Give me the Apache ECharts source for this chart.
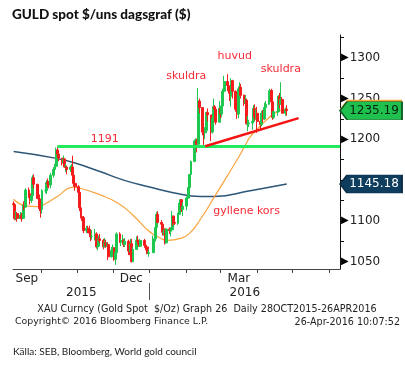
<!DOCTYPE html>
<html><head><meta charset="utf-8">
<script src="https://cdn.jsdelivr.net/npm/echarts@6/dist/echarts.min.js"></script>
<style>html,body{margin:0;padding:0;background:#fff}#c{width:405px;height:366px}</style>
</head><body><div id="c"></div>
<script>
// ---- data ----
const firstOpen = 1121;
const closes = [
  1120,1103,1109,1103,
  1107,1103,1118,1117,1138,
  1133,1125,1131,1153,1145,
  1132,1127,1115,1114,1137,
  1137,1147,1146,1144,1156,
  1163,1167,1187,1182,1177,
  1171,1176,1166,1166,1163,
  1166,1166,1156,1146,1142,
  1135,1116,1105,1104,1088,
  1091,1088,1085,1081,1081,
  1084,1068,1069,1078,1076,
  1068,1073,1070,1071,1056,
  1064,1067,1053,1061,1084,
  1074,1075,1076,1071,1075,
  1063,1062,1072,1050,1065,
  1076,1075,1069,1076,
  1070,1068,1060,1061,
  1075,1078,1092,1108,1098,
  1096,1086,1086,1073,1090,
  1088,1089,1106,1098,1097,
  1108,1120,1126,1114,1118,
  1128,1128,1141,1157,1173,
  1198,1198,1194,1247,1239,
  1209,1208,1211,1233,1230,
  1209,1226,1240,1237,1221,
  1238,1231,1241,1259,1271,
  1266,1263,1253,1272,1259,
  1237,1231,1262,1264,1254,
  1244,1248,1219,1219,1220,
  1222,1238,1227,1232,1222,
  1218,1232,1225,1239,1243,
  1258,1260,1246,1227,1234,
  1234,1253,1243,1249,1232,
  1237,1235.19
];
const highs = [
  1124,1122,1112,1111,
  1111,1110,1120,1124,1140,
  1141,1135,1134,1156,1157,
  1140,1134,1128,1119,1139,
  1142,1150,1152,1149,1159,
  1166,1170,1190,1191,1184,
  1177,1180,1177,1170,1168,
  1168,1170,1180,1156,1151,
  1144,1136,1118,1108,1106,
  1094,1094,1094,1090,1089,
  1090,1086,1077,1082,1084,
  1078,1079,1077,1074,1074,
  1068,1071,1068,1065,1086,
  1086,1078,1083,1078,1079,
  1077,1069,1078,1078,1068,
  1081,1082,1077,1078,
  1078,1074,1070,1065,
  1082,1081,1094,1111,1112,
  1101,1098,1090,1091,1091,
  1092,1092,1112,1103,1102,
  1110,1122,1127,1126,1123,
  1130,1131,1146,1157,1174,
  1200,1201,1201,1263,1250,
  1236,1214,1215,1234,1238,
  1226,1228,1250,1242,1239,
  1247,1240,1248,1262,1278,
  1280,1270,1263,1275,1273,
  1260,1245,1265,1270,1268,
  1255,1254,1250,1229,1224,
  1225,1242,1243,1237,1240,
  1226,1235,1236,1245,1247,
  1260,1262,1262,1247,1235,
  1237,1254,1257,1270,1252,
  1239,1242
];
const lows = [
  1116,1101,1101,1099,
  1102,1099,1102,1113,1116,
  1128,1120,1122,1130,1140,
  1127,1123,1112,1104,1109,
  1134,1133,1141,1140,1140,
  1153,1160,1164,1178,1173,
  1168,1168,1165,1160,1157,
  1160,1162,1155,1142,1137,
  1132,1112,1103,1100,1085,
  1085,1085,1080,1075,1077,
  1076,1066,1064,1068,1073,
  1065,1068,1067,1068,1052,
  1055,1059,1051,1046,1060,
  1073,1069,1073,1068,1068,
  1058,1058,1057,1049,1052,
  1065,1071,1068,1068,
  1067,1064,1059,1056,
  1061,1071,1077,1088,1097,
  1094,1082,1082,1071,1072,
  1084,1081,1087,1094,1095,
  1095,1103,1116,1111,1106,
  1113,1119,1128,1140,1148,
  1172,1186,1184,1195,1232,
  1205,1192,1200,1210,1222,
  1198,1207,1219,1230,1218,
  1222,1226,1227,1238,1252,
  1259,1256,1247,1240,1250,
  1234,1225,1226,1255,1250,
  1241,1240,1218,1210,1215,
  1212,1221,1223,1224,1208,
  1212,1216,1221,1224,1234,
  1242,1251,1245,1224,1225,
  1229,1233,1238,1243,1232,
  1229,1229
];
const holidays = ['2015-12-25', '2016-01-01'];
const firstDay = '2015-09-08';
const lastDay = '2016-04-26';

// 50-day moving average (orange)
const ma50 = [
  ['2015-09-08',1126.5],['2015-09-18',1118.5],['2015-09-28',1117.5],['2015-10-03',1119.5],
  ['2015-10-15',1130],['2015-10-28',1141],['2015-11-03',1140],['2015-11-20',1132],
  ['2015-12-05',1122],['2015-12-18',1107],['2015-12-31',1088],['2016-01-08',1080.5],
  ['2016-01-16',1076],['2016-01-27',1078.5],['2016-02-04',1085],['2016-02-13',1102],
  ['2016-02-25',1130],['2016-03-15',1175],['2016-03-22',1193],['2016-03-26',1203],
  ['2016-04-03',1215.5],['2016-04-12',1228],['2016-04-18',1234],['2016-04-26',1237]
];
// 200-day moving average (dark blue)
const ma200 = [
  ['2015-09-08',1185],['2015-10-13',1177],['2015-10-30',1171],['2015-11-20',1160.5],
  ['2015-12-10',1150],['2016-01-01',1141.5],['2016-01-21',1134.5],['2016-02-13',1130],
  ['2016-02-25',1130],['2016-03-26',1137],['2016-04-26',1145.18]
];
const lastPrice = 1235.19;
const lastMa200 = 1145.18;
const lastMa50 = 1237.6;
const resistance = 1191;
const resistanceFrom = '2015-10-15';
const trendFrom = ['2016-02-17', 1191.5];
const trendTo = ['2016-05-06', 1226];
const notes = [
  ['1191', '2015-11-24', 1200.5],
  ['skuldra', '2016-02-01', 1278],
  ['huvud', '2016-03-13', 1302],
  ['skuldra', '2016-04-21', 1286.5],
  ['gyllene kors', '2016-03-23', 1111.5]
];
const monthLabels = ['2015-09', '2015-12', '2016-03'];
const monthNames = ['Jan','Feb','Mar','Apr','May','Jun','Jul','Aug','Sep','Oct','Nov','Dec'];
const yearLabels = [2015, 2016];
const yLabelValues = [1050, 1100, 1200, 1250, 1300];
const yTickValues = [1050,1075,1100,1125,1150,1175,1200,1225,1250,1275,1300,1325];
const axisStart = '2015-09-07T12:00:00';
const axisEnd = '2016-06-10T00:00:00';
const yMin = 1041, yMax = 1328;

// ---- build ----
function d(s) { return new Date(s.length <= 10 ? s + 'T00:00:00' : s).getTime(); }
const xMin = d(axisStart), xMax = d(axisEnd);
const days = [];
{
  const cur = new Date(d(firstDay)); const end = d(lastDay);
  const hol = holidays.map(d);
  while (cur.getTime() <= end) {
    const wd = cur.getDay();
    if (wd !== 0 && wd !== 6 && hol.indexOf(cur.getTime()) < 0) days.push(cur.getTime());
    cur.setDate(cur.getDate() + 1);
  }
}
const n = Math.min(days.length, closes.length);
const candles = [];
for (let i = 0; i < n; i++) {
  const o = i === 0 ? firstOpen : closes[i - 1];
  const c = closes[i];
  candles.push([days[i], o, c, Math.min(lows[i], o, c), Math.max(highs[i], o, c)]);
}
const monthTicks = [];
{
  const m = new Date(xMin); m.setDate(1); m.setHours(0,0,0,0); m.setMonth(m.getMonth() + 1);
  while (m.getTime() <= xMax) { monthTicks.push(m.getTime()); m.setMonth(m.getMonth() + 1); }
}
const monthLabelPos = monthLabels.map(s => {
  const a = d(s + '-01'); const b = new Date(a); b.setMonth(b.getMonth() + 1);
  return (Math.max(a, xMin) + Math.min(b.getTime(), xMax)) / 2;
});
const yearSep = yearLabels.slice(1).map(y => d(y + '-01-01'));
const yearPos = yearLabels.map(y => {
  const a = d(y + '-01-01'), b = d((y + 1) + '-01-01');
  return (Math.max(a, xMin) + Math.min(b, xMax)) / 2;
});

const TAG = 'path://M0,9L7,0L62,0L62,18L7,18Z';
const F = 'DejaVu Sans';
const NARROW = "Lato,sans-serif";

const chart = echarts.init(document.getElementById('c'), null, {renderer: 'canvas'});
chart.setOption({
  animation: false,
  backgroundColor: '#fff',
  title: [
    {text: 'GULD spot $/uns dagsgraf ($)', left: 12, top: 8, padding: 0,
     textStyle: {fontFamily: NARROW, fontWeight: 900, fontSize: 13.5, color: '#111'}},
    {text: 'XAU Curncy (Gold Spot  $/Oz) Graph 26  Daily 28OCT2015-26APR2016', left: 207, top: 304, padding: 0, textAlign: 'center',
     textStyle: {fontFamily: F, fontWeight: 'normal', fontSize: 9.6, color: '#222'}},
    {text: 'Copyright\u00a9 2016 Bloomberg Finance L.P.', left: 15, top: 317, padding: 0,
     textStyle: {fontFamily: F, fontWeight: 'normal', fontSize: 9.4, color: '#222'}},
    {text: '26-Apr-2016 10:07:52', left: 400, top: 317, padding: 0, textAlign: 'right',
     textStyle: {fontFamily: F, fontWeight: 'normal', fontSize: 9.6, color: '#222'}},
    {text: 'K\u00e4lla: SEB, Bloomberg, World gold council', left: 13, top: 347, padding: 0,
     textStyle: {fontFamily: NARROW, fontWeight: 'normal', fontSize: 10, color: '#222'}}
  ],
  grid: {left: 13, right: 65, top: 35, bottom: 97},
  xAxis: [
    {type: 'value', min: xMin, max: xMax, splitLine: {show: false},
     axisLine: {lineStyle: {color: '#444', width: 1}},
     axisTick: {show: true, customValues: monthTicks, length: 4, lineStyle: {color: '#444'}},
     axisLabel: {customValues: monthLabelPos, margin: 4, fontFamily: F, fontSize: 12, color: '#222',
       formatter: v => monthNames[new Date(v).getMonth()]}},
    {type: 'value', min: xMin, max: xMax, position: 'bottom', offset: 14, splitLine: {show: false},
     axisLine: {show: false},
     axisTick: {show: true, customValues: yearSep, length: 17, lineStyle: {color: '#555'}},
     axisLabel: {customValues: yearPos, margin: 4, fontFamily: F, fontSize: 12, color: '#222',
       formatter: v => String(new Date(v).getFullYear())}}
  ],
  yAxis: {
    type: 'value', position: 'right', min: yMin, max: yMax,
    splitLine: {show: false},
    axisLine: {show: true, lineStyle: {color: '#111', width: 1}},
    axisTick: {show: true, customValues: yTickValues, length: 4, lineStyle: {color: '#111'}},
    axisLabel: {customValues: yLabelValues, margin: 1, fontFamily: F, fontSize: 12, color: '#222',
      formatter: v => '{t|\u25B6}' + v,
      rich: {t: {fontFamily: F, fontSize: 10, color: '#000', padding: [0, 1, 0, 0]}}}
  },
  series: [
    {type: 'line', name: 'MA200', data: ma200.map(p => [d(p[0]), p[1]]), smooth: 0.5, symbol: 'none',
     lineStyle: {color: '#2d5677', width: 1.5}, z: 1,
     markPoint: {z: 5, symbol: TAG, symbolSize: [62, 18], symbolOffset: [31, 0], symbolKeepAspect: false,
       itemStyle: {color: '#0f3d5e', borderColor: '#0a2c44', borderWidth: 1},
       label: {show: true, position: 'inside', offset: [3, 0], color: '#fff', fontFamily: F, fontSize: 12},
       data: [{coord: [xMax, lastMa200], value: lastMa200.toFixed(2)}]}},
    {type: 'line', name: 'MA50', data: ma50.map(p => [d(p[0]), p[1]]), smooth: 0.5, symbol: 'none',
     lineStyle: {color: '#f9a43c', width: 1.2}, z: 1,
     markPoint: {z: 4, symbol: TAG, symbolSize: [62, 18], symbolOffset: [31, 0], symbolKeepAspect: false,
       itemStyle: {color: '#f9a43c'}, label: {show: false},
       data: [{coord: [xMax, lastMa50], value: ''}]}},
    {type: 'candlestick', name: 'XAU', data: candles, encode: {x: 0, y: [1, 2, 3, 4]},
     barWidth: 2.4, z: 2,
     itemStyle: {color: '#1ec850', color0: '#f41c1c', borderColor: '#1ec850', borderColor0: '#f41c1c', borderWidth: 1},
     markLine: {silent: true, symbol: ['none', 'none'], label: {show: false}, z: 6,
       data: [
         [{coord: [d(resistanceFrom), resistance], lineStyle: {color: '#22ea5c', width: 3, type: 'solid'}},
          {coord: [xMax, resistance]}],
         [{coord: [d(trendFrom[0]), trendFrom[1]], lineStyle: {color: '#f51414', width: 2.5, type: 'solid'}},
          {coord: [d(trendTo[0]), trendTo[1]]}]
       ]},
     markPoint: {z: 6, symbol: TAG, symbolSize: [62, 18], symbolOffset: [31, 0], symbolKeepAspect: false,
       data: [
         {coord: [xMax, lastPrice], value: lastPrice.toFixed(2),
          itemStyle: {color: '#1fc04e', borderColor: '#0c5a22', borderWidth: 1},
          label: {show: true, position: 'inside', offset: [3, 0], color: '#08230f', fontFamily: F, fontSize: 12}}
       ].concat(notes.map(nt => ({
          coord: [d(nt[1]), nt[2]], value: nt[0], symbol: 'circle', symbolSize: 1, symbolOffset: [0, 0],
          itemStyle: {color: 'rgba(0,0,0,0)'},
          label: {show: true, position: 'inside', formatter: '{c}', color: '#f72a36', fontFamily: F, fontSize: 11}
       })))}}
  ]
});
</script></body></html>
